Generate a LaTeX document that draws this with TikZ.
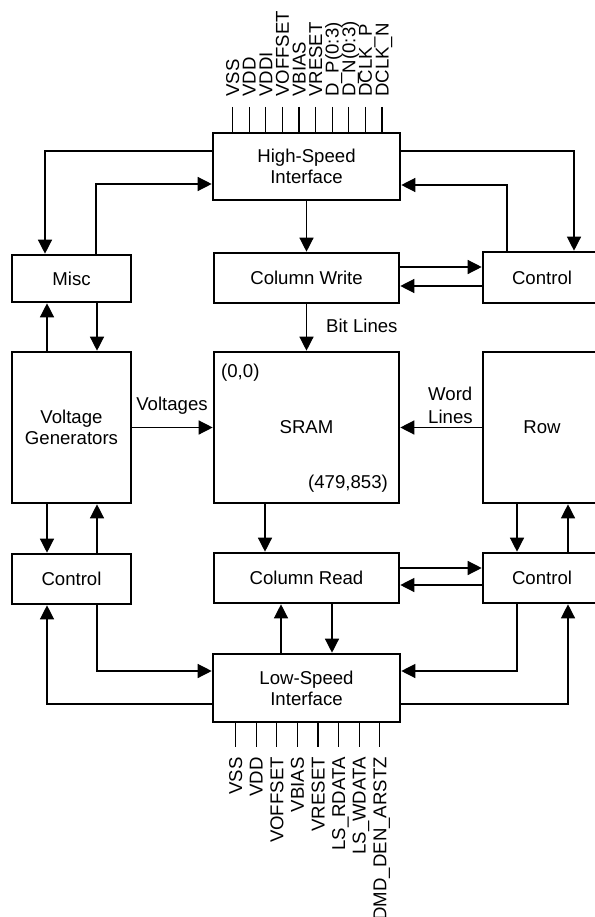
\documentclass[tikz,border=0pt]{standalone}
\usepackage{fontspec}
\setmainfont{Liberation Sans}
\usetikzlibrary{arrows.meta}
\begin{document}
\begin{tikzpicture}[x=1pt,y=-1pt,
  every node/.style={font=\fontsize{18.6}{21}\selectfont},
  blk/.style={draw, line width=2.6pt, rectangle, inner sep=0pt, align=center},
  arr/.style={line width=1.3pt, -{Triangle[length=14pt,width=14pt]}},
  pin/.style={line width=1.2pt},
  pinlab/.style={inner sep=0pt, rotate=90}]
\useasboundingbox (0,0) rectangle (594,917);
\fill[white] (0,0) rectangle (594,917);

% blocks
\node[blk, minimum width=187pt, minimum height=67pt] (hsi) at (306.5,166.5) {High-Speed\\Interface};
\node[blk, minimum width=119pt, minimum height=47pt] (misc) at (71.5,278.5) {Misc};
\node[blk, minimum width=185pt, minimum height=50pt] (cw) at (306.5,278) {Column Write};
\node[blk, minimum width=118pt, minimum height=51pt] (ctla) at (542,277.5) {Control};
\node[blk, minimum width=119pt, minimum height=151pt] (vg) at (71.5,427.5) {Voltage\\Generators};
\node[blk, minimum width=185pt, minimum height=151pt] (sram) at (306.5,427.5) {SRAM};
\node[blk, minimum width=118pt, minimum height=151pt] (row) at (542,427.5) {Row};
\node[blk, minimum width=119pt, minimum height=50pt] (ctlb) at (71.5,579) {Control};
\node[blk, minimum width=185pt, minimum height=50pt] (cr) at (306.5,578) {Column Read};
\node[blk, minimum width=118pt, minimum height=50pt] (ctlc) at (542,578) {Control};
\node[blk, minimum width=187pt, minimum height=68pt] (lsi) at (306.5,688) {Low-Speed\\Interface};

% labels
\node[inner sep=0pt, anchor=base west] (ll0) at (221,377) {(0,0)};
\node[inner sep=0pt, anchor=base east] (ll1) at (388,488) {(479,853)};
\node[inner sep=0pt, anchor=base] (lv) at (172,410) {Voltages};
\node[inner sep=0pt, anchor=base west] (lb) at (326,332) {Bit Lines};
\node[inner sep=0pt, anchor=north west, align=left, font=\fontsize{18.6}{23}\selectfont] (lw) at (428,387) {Word\\Lines};

% connectors
\draw[arr] (hsi.west |- 0,151) -| (45,0 |- misc.north);
\draw[arr] (96,0 |- misc.north) |- (hsi.west |- 0,184);
\draw[arr] (hsi.south) -- (cw.north);
\draw[arr] (hsi.east |- 0,151) -| (574,0 |- ctla.north);
\draw[arr] (507,0 |- ctla.north) |- (hsi.east |- 0,185);
\draw[arr] (cw.east |- 0,267) -- (ctla.west |- 0,267);
\draw[arr] (ctla.west |- 0,286) -- (cw.east |- 0,286);
\draw[arr] (47,0 |- vg.north) -- (47,0 |- misc.south);
\draw[arr] (97,0 |- misc.south) -- (97,0 |- vg.north);
\draw[arr] (cw.south) -- (sram.north);
\draw[arr] (vg.east) -- (sram.west);
\draw[arr] (row.west) -- (sram.east);
\draw[arr] (265,0 |- sram.south) -- (265,0 |- cr.north);
\draw[arr] (47,0 |- vg.south) -- (47,0 |- ctlb.north);
\draw[arr] (97,0 |- ctlb.north) -- (97,0 |- vg.south);
\draw[arr] (517,0 |- row.south) -- (517,0 |- ctlc.north);
\draw[arr] (568,0 |- ctlc.north) -- (568,0 |- row.south);
\draw[arr] (cr.east |- 0,568) -- (ctlc.west |- 0,568);
\draw[arr] (ctlc.west |- 0,585) -- (cr.east |- 0,585);
\draw[arr] (332,0 |- cr.south) -- (332,0 |- lsi.north);
\draw[arr] (281,0 |- lsi.north) -- (281,0 |- cr.south);
\draw[arr] (97,0 |- ctlb.south) |- (lsi.west |- 0,671);
\draw[arr] (lsi.west |- 0,704) -| (47,0 |- ctlb.south);
\draw[arr] (517,0 |- ctlc.south) |- (lsi.east |- 0,671);
\draw[arr] (lsi.east |- 0,704) -| (568,0 |- ctlc.south);

% top pins
\foreach \t [count=\i from 0] in {VSS,VDD,VDDI,VOFFSET,VBIAS,VRESET,D\_P(0:3),D\_N(0:3),DCLK\_P,DCLK\_N} {
  \pgfmathsetmacro{\px}{232.5+16.6*\i}
  \coordinate (tp\i) at (\px,107);
  \draw[pin] (tp\i) -- (tp\i |- hsi.north);
  \node[pinlab, anchor=base west] (tl\i) at (\px+6.6,97) {\t};
}
% bottom pins
\foreach \t [count=\i from 0] in {VSS,VDD,VOFFSET,VBIAS,VRESET,LS\_RDATA,LS\_WDATA,DMD\_DEN\_ARSTZ} {
  \pgfmathsetmacro{\px}{235.5+20.6*\i}
  \coordinate (bp\i) at (\px,747);
  \draw[pin] (bp\i |- lsi.south) -- (bp\i);
  \node[pinlab, anchor=base east] (bl\i) at (\px+6.6,757) {\t};
}
\end{tikzpicture}
\end{document}
